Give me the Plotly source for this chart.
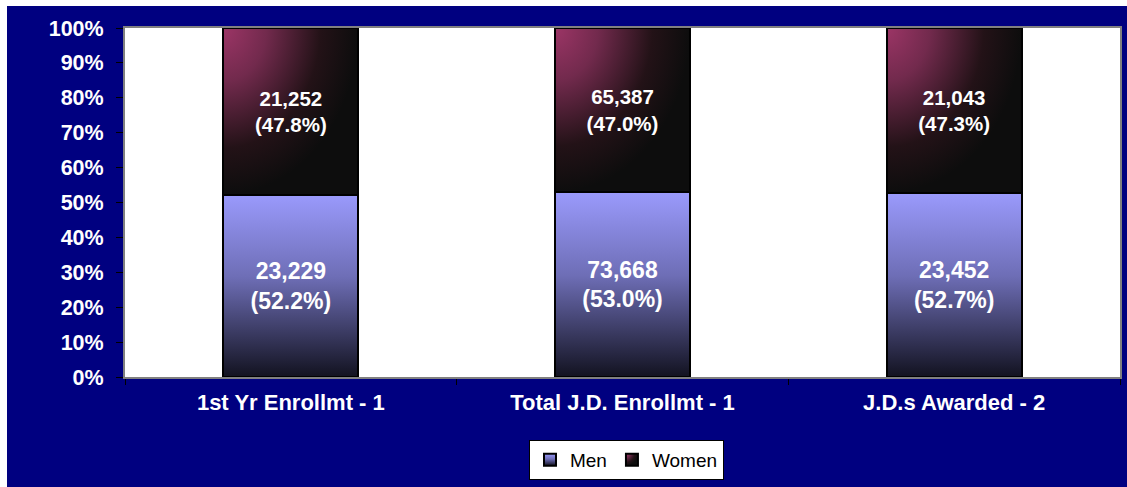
import plotly.graph_objects as go

# ---- data ----
categories = ["1st Yr Enrollmt - 1", "Total J.D. Enrollmt - 1", "J.D.s Awarded - 2"]
men = [23229, 73668, 23452]
women = [21252, 65387, 21043]
series_names = ["Men", "Women"]
y_tick_values = [0, 10, 20, 30, 40, 50, 60, 70, 80, 90, 100]
y_tick_labels = [f"{v}%" for v in y_tick_values]

totals = [m + w for m, w in zip(men, women)]


def label(v, t):
    return f"{v:,}<br>({100 * v / t:.1f}%)"


men_text = [label(m, t) for m, t in zip(men, totals)]
women_text = [label(w, t) for w, t in zip(women, totals)]

FONT = "Arial, 'Liberation Sans', sans-serif"
NAVY = "#000080"

fig = go.Figure()
fig.add_bar(
    x=categories, y=men, name=series_names[0],
    text=men_text, textposition="inside", insidetextanchor="middle", textangle=0,
    textfont=dict(family=FONT, size=23, color="white", weight="bold"),
    marker=dict(color="#6a6ab4", line=dict(color="black", width=2)),
    hoverinfo="skip",
)
fig.add_bar(
    x=categories, y=women, name=series_names[1],
    text=women_text, textposition="inside", insidetextanchor="middle", textangle=0,
    textfont=dict(family=FONT, size=20.5, color="white", weight="bold"),
    marker=dict(color="#2a1420", line=dict(color="black", width=2)),
    hoverinfo="skip",
)

fig.update_layout(
    width=1120, height=481,
    margin=dict(l=118, r=5, t=22, b=110),
    paper_bgcolor=NAVY, plot_bgcolor="white",
    barmode="stack", barnorm="percent", bargap=0.593,
    font=dict(family=FONT, color="white"),
    showlegend=True,
    legend=dict(
        orientation="h", x=0.504, xanchor="center", y=-0.18, yanchor="top",
        bgcolor="white", bordercolor="black", borderwidth=1,
        font=dict(family=FONT, size=19, color="black"),
        traceorder="normal", itemwidth=30,
    ),
    xaxis=dict(
        showgrid=False, showline=True, linecolor="#808080", linewidth=2, mirror=True,
        ticks="outside", tickson="boundaries", ticklen=6, tickcolor="black",
        ticklabelstandoff=5,
        tickfont=dict(family=FONT, size=22, color="white", weight="bold"),
    ),
    yaxis=dict(
        range=[0, 100], tickvals=y_tick_values, ticktext=y_tick_labels,
        showgrid=False, zeroline=False, showline=True, linecolor="#808080", linewidth=2, mirror=True,
        ticks="outside", ticklen=7, tickcolor="black",
        ticklabelstandoff=8,
        tickfont=dict(family=FONT, size=21.5, color="white", weight="bold"),
    ),
)

post = r"""
var gd = document.getElementById('{plot_id}');
document.body.style.margin = '0';
document.body.style.padding = '6px 0 0 7px';
document.body.style.overflow = 'hidden';
document.body.style.background = 'white';
var NS = 'http://www.w3.org/2000/svg';
function mkGrad(defs, type, id, attrs, stops) {
  if (document.getElementById(id)) return;
  var g = document.createElementNS(NS, type);
  g.setAttribute('id', id);
  for (var k in attrs) g.setAttribute(k, attrs[k]);
  stops.forEach(function (s) {
    var st = document.createElementNS(NS, 'stop');
    st.setAttribute('offset', s[0]);
    st.setAttribute('stop-color', s[1]);
    g.appendChild(st);
  });
  defs.appendChild(g);
}
function paint() {
  var svg = gd.querySelector('svg.main-svg');
  var defs = svg.querySelector('defs');
  mkGrad(defs, 'linearGradient', 'gradMen', {x1: 0, y1: 0, x2: 0, y2: 1},
         [[0, '#9a9afc'], [0.45, '#6e6eb6'], [1, '#121220']]);
  mkGrad(defs, 'radialGradient', 'gradWomen', {cx: 0, cy: 0, r: 1, fx: 0, fy: 0},
         [[0, '#9c3566'], [0.32, '#722a4d'], [0.72, '#231217'], [1, '#0d0d0d']]);
  var ids = ['gradMen', 'gradWomen'];
  gd.querySelectorAll('.barlayer .trace').forEach(function (t, i) {
    t.querySelectorAll('.point path').forEach(function (p) {
      p.style.fill = 'url(#' + ids[i] + ')';
    });
  });
  var byName = {'Men': 'gradMen', 'Women': 'gradWomen'};
  gd.querySelectorAll('.legend .traces').forEach(function (t) {
    var txt = t.querySelector('.legendtext');
    var id = txt ? byName[txt.textContent.trim()] : null;
    if (!id) return;
    t.querySelectorAll('.legendpoints path').forEach(function (p) {
      p.style.fill = 'url(#' + id + ')';
    });
  });
}
paint();
gd.on('plotly_afterplot', paint);
"""

fig.write_html("out.html", post_script=post)
